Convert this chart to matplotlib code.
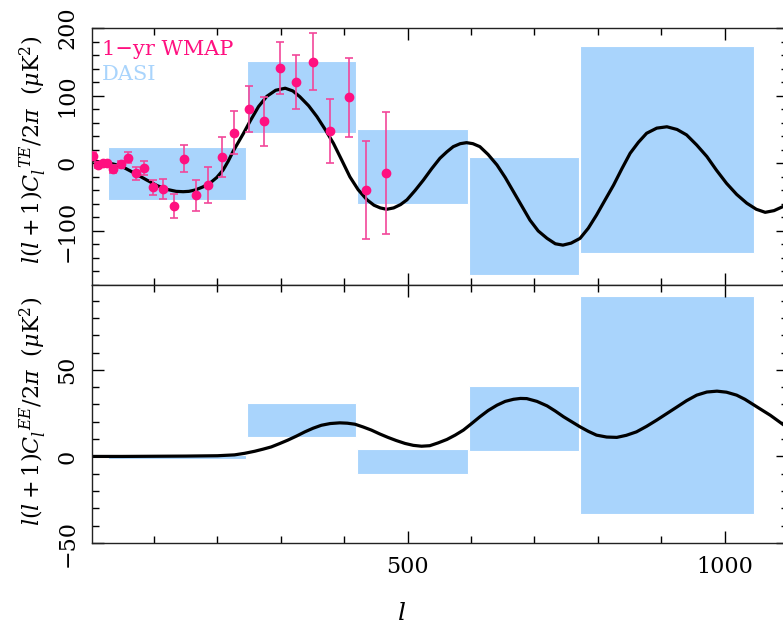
import numpy as np
import matplotlib
matplotlib.use('Agg')
import matplotlib.pyplot as plt
from matplotlib.ticker import MultipleLocator

plt.rcParams['font.family'] = 'DejaVu Serif'
plt.rcParams['mathtext.fontset'] = 'dejavuserif'

# DASI band powers: l-range and 1-sigma box
dasi_lmin = [28, 247, 421, 597, 772]
dasi_lmax = [245, 419, 595, 770, 1047]
dasi_te_lo = [-55, 45, -60, -165, -132]
dasi_te_hi = [24, 151, 51, 9, 173]
dasi_ee_lo = [-1.5, 11, -10, 3, -33]
dasi_ee_hi = [0.8, 31, 4.5, 40.5, 92.5]

# 1-yr WMAP TE points
wmap_l = [4, 12, 19, 26, 36, 48, 59, 71, 84, 99, 114, 132, 148, 167, 185,
          207, 227, 250, 274, 298, 324, 351, 378, 407, 435, 466]
wmap_te = [11, -2.5, 0, 0, -8.5, -1.5, 8, -15, -7, -35.5, -38, -63, 6.4, -47, -32,
           9, 45, 81, 62, 141, 120, 150, 48, 97.6, -39.5, -14]
wmap_err = [5, 4, 3, 3, 6, 5, 8, 10, 10, 11, 15, 18, 20, 23, 26,
            30, 32, 34, 36, 38, 40, 42, 47, 58, 73, 90]

# model TE spectrum
te_l = [2, 15, 26, 40, 52, 70, 89, 105, 120, 135, 146, 155, 165, 177, 188,
        199, 209, 217, 225, 233, 241, 252, 265, 278, 292, 307, 319, 330, 344,
        357, 370, 383, 396, 409, 422, 436, 447, 457, 467, 478, 489, 499, 512,
        525, 538, 551, 562, 572, 583, 593, 603, 614, 627, 641, 654, 667, 680,
        693, 706, 720, 733, 745, 758, 772, 785, 798, 811, 825, 838, 851, 864,
        877, 893, 909, 925, 940, 956, 972, 987, 1003, 1019, 1035, 1050, 1064,
        1078, 1092, 1100]
te_cl = [4, 2, 1, -2, -6, -15, -25, -33, -38.5, -41.5, -42, -41.5, -39.5, -35, -29.6,
         -21, -10, 3, 18, 31, 44, 63, 84, 99, 108, 111, 107, 98.5, 85,
         69, 50, 29.6, 5, -20, -39, -54, -62, -66, -68, -66, -61, -54, -40,
         -24.7, -8, 7.4, 17, 24.6, 29, 30.5, 29, 24.6, 13, -2.5, -21, -42, -63,
         -84, -100, -111, -119, -121, -118, -111, -96, -76.5, -55, -32, -8, 14.8, 31,
         44.4, 52, 54, 50, 42, 27, 10, -10, -29.6, -46, -59, -68, -72.5,
         -70, -64, -60]

# model EE spectrum
ee_l = [2, 50, 100, 150, 200, 227, 243, 259, 272, 285, 298, 311, 325, 338,
        351, 364, 378, 393, 405, 417, 430, 443, 456, 469, 482, 496, 509, 522,
        535, 548, 562, 575, 588, 601, 614, 627, 641, 654, 667, 678, 688, 704,
        720, 733, 746, 759, 772, 785, 798, 814, 830, 845, 861, 877, 893, 909,
        925, 940, 956, 972, 988, 1003, 1019, 1032, 1045, 1058, 1072, 1092, 1100]
ee_cl = [0, 0, 0.1, 0.2, 0.4, 0.9, 1.8, 3, 4.2, 5.5, 7.4, 9.4, 11.8, 14.2,
         16.3, 18, 19, 19.4, 19.2, 18.6, 17, 15.2, 13, 11, 9.2, 7.5, 6.4, 5.9,
         6.2, 7.8, 9.8, 12.3, 15.2, 19, 22.9, 26.5, 29.6, 31.8, 33, 33.5, 33.4, 31.8,
         29.2, 26.2, 22.9, 20, 17.1, 14.5, 12.3, 11.2, 11, 12.2, 14.2, 17.4, 21, 24.8,
         28.6, 32.2, 35.4, 37.2, 37.7, 37.1, 35.4, 33, 30, 27, 23.8, 18.5, 16.5]

pink = '#ff1080'
blue = '#a9d4fc'

fig = plt.figure(figsize=(7.83, 6.23), dpi=100)
ax1 = fig.add_axes([0.1181, 0.5425, 0.8883, 0.4125])
ax2 = fig.add_axes([0.1181, 0.1284, 0.8883, 0.4141], sharex=ax1)

w = np.array(dasi_lmax) - np.array(dasi_lmin)
ax1.bar(dasi_lmin, np.array(dasi_te_hi) - np.array(dasi_te_lo), width=w,
        bottom=dasi_te_lo, align='edge', color=blue, edgecolor='white', linewidth=0.8, zorder=1)
ax2.bar(dasi_lmin, np.array(dasi_ee_hi) - np.array(dasi_ee_lo), width=w,
        bottom=dasi_ee_lo, align='edge', color=blue, edgecolor='white', linewidth=0.8, zorder=1)

ax1.plot(te_l, te_cl, color='black', lw=2.3, zorder=2, solid_joinstyle='round')
ax2.plot(ee_l, ee_cl, color='black', lw=2.3, zorder=2, solid_joinstyle='round')

ax1.errorbar(wmap_l, wmap_te, yerr=wmap_err, fmt='o', color=pink, ms=6,
             ecolor='#f2479a', elinewidth=1.2, capsize=3, capthick=1.2, zorder=3)

ax1.text(0.013, 0.915, '1\u2212yr WMAP', transform=ax1.transAxes, color=pink,
         fontsize=15, va='center', ha='left')
ax1.text(0.013, 0.82, 'DASI', transform=ax1.transAxes, color=blue,
         fontsize=15, va='center', ha='left')

ax1.set_xlim(3, 1100)
ax1.set_ylim(-180, 200)
ax2.set_ylim(-50, 99)

ax1.yaxis.set_major_locator(MultipleLocator(100))
ax1.yaxis.set_minor_locator(MultipleLocator(20))
ax2.yaxis.set_major_locator(MultipleLocator(50))
ax2.yaxis.set_minor_locator(MultipleLocator(10))
ax2.xaxis.set_major_locator(MultipleLocator(500))
ax2.xaxis.set_minor_locator(MultipleLocator(100))

for ax in (ax1, ax2):
    ax.tick_params(which='both', direction='in', top=True, right=True, width=1)
    ax.tick_params(which='major', length=8.6)
    ax.tick_params(which='minor', length=5)
    ax.tick_params(axis='y', labelrotation=90, labelsize=16, pad=10)
    ax.tick_params(axis='x', labelsize=16, pad=9)
    for s in ax.spines.values():
        s.set_linewidth(1)
        s.set_color('#222222')
    for t in ax.get_yticklabels():
        t.set_va('center')
ax1.tick_params(axis='x', labelbottom=False)

fig.text(0.042, 0.76, r'$l(l+1)C_l^{\ TE}/2\pi\ \ (\mu{\rm K}^2)$',
         rotation=90, ha='center', va='center', fontsize=16)
fig.text(0.042, 0.34, r'$l(l+1)C_l^{\ EE}/2\pi\ \ (\mu{\rm K}^2)$',
         rotation=90, ha='center', va='center', fontsize=16)
fig.text(0.513, 0.016, r'$l$', ha='center', va='center', fontsize=18)

fig.savefig('out.png', dpi=100)
